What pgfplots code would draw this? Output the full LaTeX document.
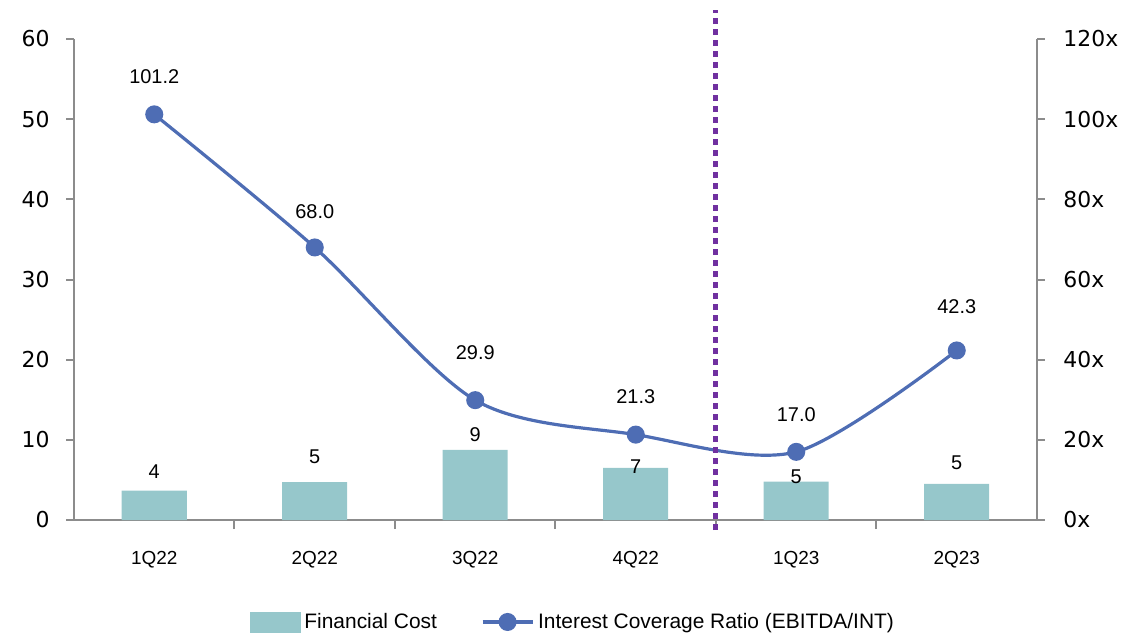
\documentclass[border=0pt]{standalone}
\usepackage{pgfplots}
\pgfplotsset{compat=1.18}
\usepackage{pgfplotstable}
\usepackage{fontspec}
\setmainfont{Liberation Sans}
\newfontfamily\tickfont{DejaVu Sans}
\definecolor{barc}{HTML}{96C7CB}
\definecolor{linec}{HTML}{4E6DB4}
\definecolor{axc}{HTML}{8C8C8C}
\definecolor{divc}{HTML}{7030A0}

\pgfplotstableread{
x fc fclab fcdy
0 3.65 4 9.5
1 4.74 5 12.5
2 8.75 9 7.5
3 6.5 7 0.5
4 4.8 5 2.5
5 4.5 5 10.5
}\fcdata
\pgfplotstableread{
x icr icrlab icrdy
0 101.2 101.2 19
1 68.0 68.0 18
2 29.9 29.9 24
3 21.3 21.3 19
4 17.0 17.0 18.5
5 42.3 42.3 22
}\icrdata

\pgfplotsset{
 mycommon/.style={
  scale only axis, width=481.5bp, height=240.5bp,
  xmin=-0.5, xmax=5.5, clip=false,
  axis line style={axc, line width=1bp},
  tick style={axc, line width=1bp},
  tick align=outside,
  major tick length=4bp,
  yticklabel style={font=\tickfont\fontsize{11}{13}\selectfont, text=black},
 }
}

\begin{document}
\begin{tikzpicture}
\path[use as bounding box] (-37bp,-58.5bp) rectangle (536.5bp,260bp);
\begin{axis}[mycommon, ybar, bar width=32.5bp,
 ymin=0, ymax=60, ytick={0,10,...,60},
 axis x line*=bottom, axis y line*=left,
 xtick={0,...,5}, xticklabels={1Q22,2Q22,3Q22,4Q22,1Q23,2Q23},
 major x tick style={draw=none},
 minor xtick={0.5,1.5,2.5,3.5,4.5}, minor tick length=4.5bp,
 minor x tick style={axc, line width=1bp},
 xticklabel style={font=\fontsize{9.5}{11}\selectfont, text=black},
 xticklabel shift=8bp,
 /pgf/number format/assume math mode=true,
 yticklabel shift=4.7bp,
 nodes near coords, point meta=explicit symbolic,
 visualization depends on={\thisrow{fcdy} \as \dy},
 nodes near coords style={anchor=center, yshift=\dy bp, font=\fontsize{10}{12}\selectfont, text=black},
]
\addplot[fill=barc, draw=none] table[x=x, y=fc, meta=fclab]{\fcdata};
\end{axis}
\begin{axis}[mycommon,
 ymin=0, ymax=120, ytick={0,20,...,120},
 yticklabels={0x,20x,40x,60x,80x,100x,120x},
 axis y line*=right, axis x line=none,
 yticklabel shift=5.7bp,
 legend style={at={(0.519,-0.212)}, anchor=center, draw=none, fill=none,
   legend columns=2, font=\fontsize{10.5}{12}\selectfont,
   /tikz/every even column/.append style={column sep=20bp}},
 legend cell align=left,
 nodes near coords, point meta=explicit symbolic,
 visualization depends on={\thisrow{icrdy} \as \dy},
 nodes near coords style={anchor=center, yshift=\dy bp, font=\fontsize{10}{12}\selectfont, text=black},
]
\addlegendimage{legend image code/.code={\fill[barc] (0bp,-5bp) rectangle (25bp,5bp);}}
\addlegendentry{Financial Cost}
\addplot[linec, line width=1.6bp, smooth, mark=*, mark size=3.7bp,
  mark options={fill=linec, draw=linec},
  legend image code/.code={\draw[linec, line width=1.6bp] (0bp,0bp) -- (25bp,0bp); \fill[linec] (12.5bp,0bp) circle (3.7bp);}]
  table[x=x, y=icr, meta=icrlab]{\icrdata};
\addlegendentry{Interest Coverage Ratio (EBITDA/INT)}
\draw[divc, line width=2.5bp, dash pattern=on 3bp off 2.5bp] (axis cs:3.5,-2.5) -- (axis cs:3.5,127.2);
\end{axis}
\end{tikzpicture}
\end{document}
